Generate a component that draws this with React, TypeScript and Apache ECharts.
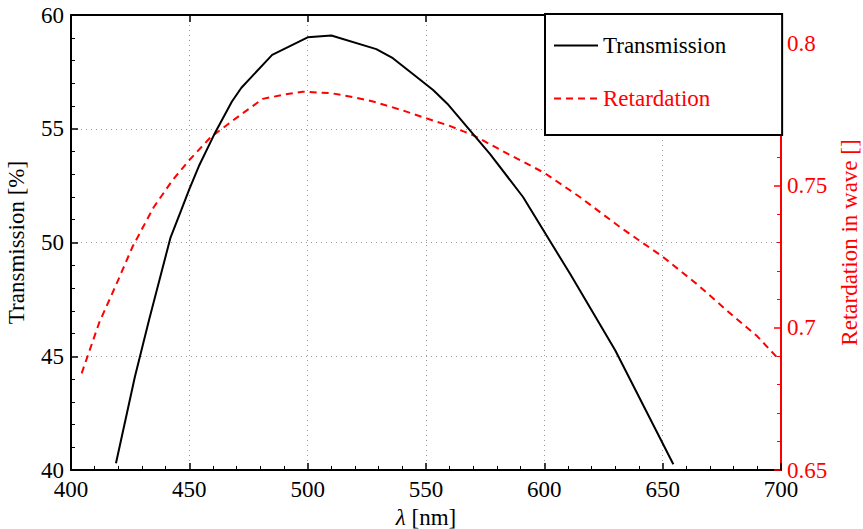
import React, { useEffect, useRef } from "react";
import * as echarts from "echarts";

const wavelengthT = [419, 427, 433, 442, 446.5, 450, 454, 461, 468, 472, 485, 500, 510, 529, 536, 547, 553, 559, 577, 591, 611, 630, 654.5];
const transmission = [40.3, 44.1, 46.6, 50.2, 51.4, 52.35, 53.35, 54.85, 56.2, 56.8, 58.25, 59.02, 59.1, 58.5, 58.1, 57.2, 56.7, 56.1, 53.9, 52.0, 48.6, 45.25, 40.25];

const wavelengthR = [404.5, 412, 419, 426, 435, 443, 450, 459, 471, 481, 490, 498, 510, 520, 528, 540, 550, 560, 570, 585, 600, 615, 632, 650, 665, 680, 690, 699];
const retardation = [0.684, 0.702, 0.715, 0.7285, 0.7425, 0.752, 0.759, 0.767, 0.7745, 0.7805, 0.782, 0.783, 0.7825, 0.781, 0.7795, 0.7765, 0.7737, 0.771, 0.7677, 0.761, 0.7545, 0.746, 0.7354, 0.725, 0.715, 0.704, 0.697, 0.689];

const FONT = "'Liberation Serif', 'DejaVu Serif', serif";
const FS = 23;

export default function App() {
  const ref = useRef<HTMLDivElement>(null);
  useEffect(() => {
    document.body.style.margin = "0";
    document.body.style.overflow = "hidden";
    if (!ref.current) return;
    const chart = echarts.init(ref.current, undefined, { renderer: "svg" });
    const tData = wavelengthT.map((w, i) => [w, transmission[i]]);
    const rData = wavelengthR.map((w, i) => [w, retardation[i]]);
    const dotted = { show: true, lineStyle: { color: "#999", type: [1, 4] as any, width: 1 } };
    chart.setOption({
      animation: false,
      backgroundColor: "#fff",
      textStyle: { fontFamily: FONT },
      grid: { left: 71, right: 82, top: 15, bottom: 59, containLabel: false, outerBoundsMode: "none" },
      legend: {
        left: 545,
        top: 14,
        orient: "vertical",
        backgroundColor: "#fff",
        borderColor: "#000",
        borderWidth: 2,
        borderRadius: 0,
        padding: [20, 56, 25, 8],
        itemGap: 30,
        itemWidth: 44,
        itemHeight: 20,
        itemStyle: { opacity: 0 },
        textStyle: { fontFamily: FONT, fontSize: FS },
        z: 10,
        data: [
          { name: "Transmission", textStyle: { color: "#000" } },
          { name: "Retardation", textStyle: { color: "#ff0000" } },
        ],
      },
      xAxis: [
        {
          type: "value",
          min: 400,
          max: 700,
          interval: 50,
          position: "bottom",
          name: "{i|λ} [nm]",
          nameLocation: "middle",
          nameGap: 29,
          nameTextStyle: {
            fontFamily: FONT,
            fontSize: FS,
            color: "#000",
            rich: { i: { fontStyle: "italic", fontFamily: FONT, fontSize: FS, color: "#000" } },
          },
          axisLine: { show: true, lineStyle: { color: "#000", width: 2 } },
          axisTick: { show: true, inside: true, length: 7, lineStyle: { color: "#000", width: 1.5 } },
          minorTick: { show: true, splitNumber: 5, length: 4, lineStyle: { color: "#000", width: 1 } },
          axisLabel: { fontFamily: FONT, fontSize: FS, color: "#000", margin: 8 },
          splitLine: dotted,
        },
        {
          type: "value",
          min: 400,
          max: 700,
          interval: 50,
          position: "top",
          axisLine: { show: true, lineStyle: { color: "#000", width: 2 } },
          axisTick: { show: true, inside: true, length: 7, lineStyle: { color: "#000", width: 1.5 } },
          axisLabel: { show: false },
          splitLine: { show: false },
        },
      ],
      yAxis: [
        {
          type: "value",
          min: 40,
          max: 60,
          interval: 5,
          position: "left",
          name: "Transmission [%]",
          nameLocation: "middle",
          nameGap: 43,
          nameTextStyle: { fontFamily: FONT, fontSize: FS, color: "#000" },
          axisLine: { show: true, lineStyle: { color: "#000", width: 2 } },
          axisTick: { show: true, inside: true, length: 7, lineStyle: { color: "#000", width: 1.5 } },
          minorTick: { show: true, splitNumber: 5, length: 4, lineStyle: { color: "#000", width: 1 } },
          axisLabel: { fontFamily: FONT, fontSize: FS, color: "#000", margin: 7 },
          splitLine: dotted,
        },
        {
          type: "value",
          min: 0.65,
          max: 0.81,
          interval: 0.05,
          position: "right",
          name: "Retardation in wave []",
          nameLocation: "middle",
          nameGap: 44,
          nameTextStyle: { fontFamily: FONT, fontSize: FS, color: "#ff0000" },
          axisLine: { show: true, lineStyle: { color: "#ff0000", width: 2 } },
          axisTick: { show: true, inside: true, length: 7, lineStyle: { color: "#ff0000", width: 1.5 } },
          minorTick: { show: true, splitNumber: 5, length: 4, lineStyle: { color: "#ff0000", width: 1 } },
          axisLabel: {
            fontFamily: FONT,
            fontSize: FS,
            color: "#ff0000",
            margin: 6,
            showMaxLabel: false,
            formatter: (v: number) => String(parseFloat(v.toFixed(2))),
          },
          splitLine: { show: false },
        },
      ],
      series: [
        {
          name: "Transmission",
          type: "line",
          xAxisIndex: 0,
          yAxisIndex: 0,
          data: tData,
          symbol: "none",
          lineStyle: { color: "#000", width: 2 },
          itemStyle: { color: "#000" },
          z: 3,
        },
        {
          name: "Retardation",
          type: "line",
          xAxisIndex: 0,
          yAxisIndex: 1,
          data: rData,
          symbol: "none",
          lineStyle: { color: "#ff0000", width: 2, type: [7, 5] },
          itemStyle: { color: "#ff0000" },
          z: 2,
        },
      ],
    });
    return () => chart.dispose();
  }, []);
  return <div ref={ref} style={{ width: 863, height: 529 }} />;
}
